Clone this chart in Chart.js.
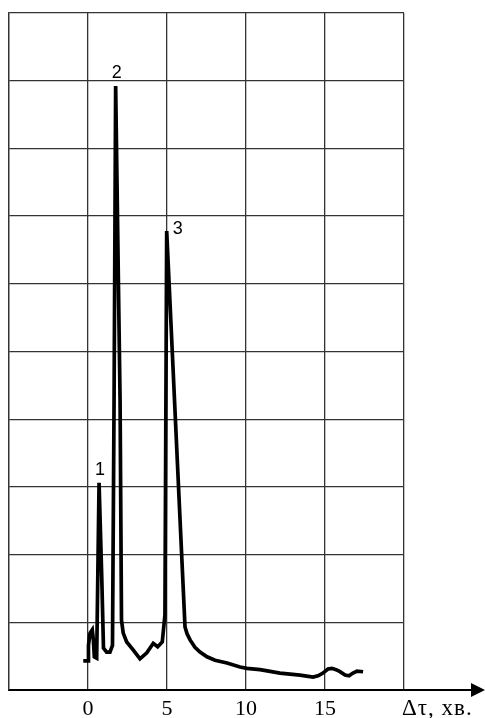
<!DOCTYPE html>
<html>
<head>
<meta charset="utf-8">
<script src="https://cdn.jsdelivr.net/npm/chart.js@4"></script>
<style>
	html, body { margin: 0; padding: 0; background: #fff; }
	canvas { display: block; }
</style>
</head>
<body>
<canvas id="plot" width="485" height="718"></canvas>
<script>

// time, minutes
const times = [
	-0.30, 0.02, 0.03, 0.13, 0.27, 0.34, 0.40, 0.55, 0.70, 0.87, 0.98, 1.18, 1.39, 1.55,
	1.65, 1.75, 2.03, 2.12, 2.23, 2.45, 2.87, 3.29, 3.72, 4.13, 4.41, 4.70, 4.87, 4.98,
	6.14, 6.27, 6.46, 6.77, 7.09, 7.53, 8.04, 8.80, 9.62, 10.06, 10.89, 12.15, 13.42,
	14.24, 14.56, 14.87, 15.19, 15.44, 15.70, 15.95, 16.27, 16.52, 16.77, 17.03, 17.41
];

// signal
const signal = [
	0.43, 0.43, 0.66, 0.84, 0.89, 0.74, 0.49, 0.47, 3.06, 1.67, 0.62, 0.56, 0.56, 0.66,
	4.28, 8.92, 4.28, 1.03, 0.84, 0.71, 0.59, 0.46, 0.55, 0.69, 0.64, 0.71, 1.11, 6.78,
	0.93, 0.83, 0.74, 0.63, 0.56, 0.49, 0.44, 0.40, 0.34, 0.32, 0.30, 0.25, 0.22,
	0.19, 0.21, 0.25, 0.31, 0.32, 0.30, 0.27, 0.22, 0.21, 0.25, 0.28, 0.27
];

const xTicks = [ 0, 5, 10, 15 ];
const peakLabels = [ '1', '2', '3' ];
const peakIndex = [ 8, 15, 27 ];
const axisTitle = 'Δτ, хв.';


const extras = {
	id: 'extras',
	afterDraw( chart ) {

		const ctx = chart.ctx;
		const area = chart.chartArea;
		const y0 = chart.scales.y.getPixelForValue( 0 );

		ctx.save();

		// axis continues past the grid, with an arrow
		ctx.strokeStyle = '#000';
		ctx.lineWidth = 2;
		ctx.beginPath();
		ctx.moveTo( area.right, y0 );
		ctx.lineTo( 474, y0 );
		ctx.stroke();

		ctx.fillStyle = '#000';
		ctx.beginPath();
		ctx.moveTo( 485, y0 );
		ctx.lineTo( 471, y0 - 7 );
		ctx.lineTo( 471, y0 + 7 );
		ctx.closePath();
		ctx.fill();

		ctx.font = '23px "Liberation Serif"';
		ctx.letterSpacing = '1px';
		ctx.textAlign = 'left';
		ctx.textBaseline = 'alphabetic';
		ctx.fillText( axisTitle, 402, 715 );
		ctx.letterSpacing = '0px';

		// peak numbers
		const pts = chart.getDatasetMeta( 0 ).data;
		ctx.font = '18px "Liberation Sans"';
		ctx.textAlign = 'center';
		peakLabels.forEach( ( label, i ) => {

			const p = pts[ peakIndex[ i ] ];
			if ( i === 2 ) ctx.fillText( label, p.x + 11, p.y + 3 );
			else ctx.fillText( label, p.x + 1, p.y - 8 );

		} );

		ctx.restore();

	}
};


const plotCTX = document.getElementById('plot');

const plotData = {
	datasets: [{
		data: times.map( ( t, i ) => ({ x: t, y: signal[ i ] }) ),
		borderColor: '#000',
		borderWidth: 3.7,
		pointRadius: 0,
		tension: 0,
		fill: false
	}]
};

const plotConfig = {
	type: 'line',
	data: plotData,
	plugins: [ extras ],
	options: {
		responsive: false,
		animation: false,
		layout: {
			padding: { left: 9, right: 81, top: 13, bottom: 0 }
		},
		plugins: {
			legend: { display: false },
			tooltip: { enabled: false }
		},
		scales: {
			x: {
				type: 'linear',
				min: -5,
				max: 20,
				afterBuildTicks: ( axis ) => {
					axis.ticks = [ -5, ...xTicks, 20 ].map( v => ({ value: v }) );
				},
				afterFit: ( axis ) => { axis.height = 28; },
				grid: { color: '#333', lineWidth: 1.3, drawTicks: false },
				border: { color: '#000', width: 2 },
				ticks: {
					color: '#000',
					padding: 6,
					maxRotation: 0,
					font: { family: 'Liberation Serif', size: 22 },
					callback: ( v ) => xTicks.includes( v ) ? String( v ) : ''
				}
			},
			y: {
				type: 'linear',
				min: 0,
				max: 10,
				grid: { color: '#333', lineWidth: 1.3, drawTicks: false },
				border: { color: '#333', width: 1.3 },
				ticks: { display: false, stepSize: 1 }
			}
		}
	}
};

const plotChart = new Chart( plotCTX, plotConfig );

</script>
</body>
</html>
